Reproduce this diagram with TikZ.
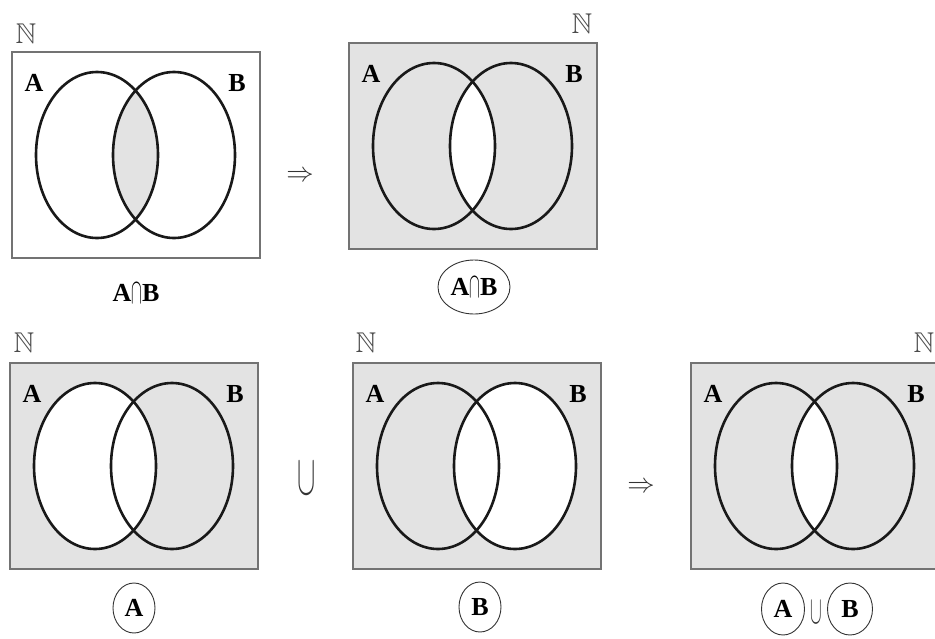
\documentclass[tikz,border=0pt]{standalone}
\usepackage{amssymb}
\usepackage{fontspec}
\setmainfont{Liberation Serif}
\usetikzlibrary{shapes.geometric}

\newcommand\capop{\raisebox{-2pt}{\scalebox{0.65}[1.45]{$\cap$}}}
\newcommand\cupop{\raisebox{-3pt}{\scalebox{0.7}[1.6]{$\cup$}}}

\begin{document}
\begin{tikzpicture}[
        x=1pt, y=-1pt,
        frame/.style={draw=black!55, line width=2.4pt},
        shade/.style={fill=black!11},
        venn/.style={x radius=61pt, y radius=83pt},
        setline/.style={draw=black!90, line width=2.6pt},
        setname/.style={font=\fontsize{26}{28}\selectfont\bfseries, inner sep=0pt},
        univ/.style={font=\fontsize{26}{28}\selectfont, inner sep=0pt, text=black!70},
        ring/.style={ellipse, draw=black!80, line width=0.9pt, inner sep=0pt, font=\fontsize{26}{28}\selectfont\bfseries},
        op/.style={font=\fontsize{27}{30}\selectfont, inner sep=0pt, text=black!80}
    ]
    \useasboundingbox (0,0) rectangle (935,638);

    % panel corners and set centres
    \foreach \p/\x/\y in {1/12/52, 2/349/43, 3/10/363, 4/353/363, 5/691/363} {
        \coordinate (r\p) at (\x,\y);
        \coordinate (a\p) at (\x+85,\y+103);
        \coordinate (b\p) at (\x+162,\y+103);
    }

    % shaded regions
    \begin{scope}
        \clip (a1) ellipse [venn];
        \fill[shade] (b1) ellipse [venn];
    \end{scope}
    \foreach \p in {2,3,4,5}
        \fill[shade] (r\p) rectangle ++(248,206);
    \begin{scope}
        \clip (a2) ellipse [venn];
        \fill[white] (b2) ellipse [venn];
    \end{scope}
    \fill[white] (a3) ellipse [venn];
    \fill[white] (b4) ellipse [venn];
    \begin{scope}
        \clip (a5) ellipse [venn];
        \fill[white] (b5) ellipse [venn];
    \end{scope}

    % frames, sets and set names
    \foreach \p in {1,...,5} {
        \draw[frame] (r\p) rectangle ++(248,206);
        \draw[setline] (a\p) ellipse [venn];
        \draw[setline] (b\p) ellipse [venn];
        \node[setname] (la\p) at ([shift={(22,31)}]r\p) {A};
        \node[setname] (lb\p) at ([shift={(225,31)}]r\p) {B};
    }

    % universal set
    \node[univ] (n1) at (26,34) {\scalebox{1.1}{$\mathbb{N}$}};
    \node[univ] (n2) at (582,24) {\scalebox{1.1}{$\mathbb{N}$}};
    \node[univ] (n3) at (24,343) {\scalebox{1.1}{$\mathbb{N}$}};
    \node[univ] (n4) at (366,343) {\scalebox{1.1}{$\mathbb{N}$}};
    \node[univ] (n5) at (924,343) {\scalebox{1.1}{$\mathbb{N}$}};

    % captions
    \node[setname] (c1) at (136,293) {A\capop B};
    \node[ring, minimum width=72, minimum height=54] (c2) at (474,287) {A\capop B};
    \node[ring, minimum width=42, minimum height=50] (c3) at (134,608) {A};
    \node[ring, minimum width=42, minimum height=50] (c4) at (480,607) {B};
    \node[ring, minimum width=43, minimum height=52] (c5a) at (783,609) {A};
    \node[op] (c5u) at (816,612) {\cupop};
    \node[ring, minimum width=45, minimum height=52] (c5b) at (850,609) {B};

    % operations between panels
    \node[op] (imp1) at (300,176) {\scalebox{1.1}{$\Rightarrow$}};
    \node[op] (uni) at (307,479) {\scalebox{1.1}[2.3]{$\cup$}};
    \node[op] (imp2) at (641,487) {\scalebox{1.1}{$\Rightarrow$}};
\end{tikzpicture}
\end{document}
